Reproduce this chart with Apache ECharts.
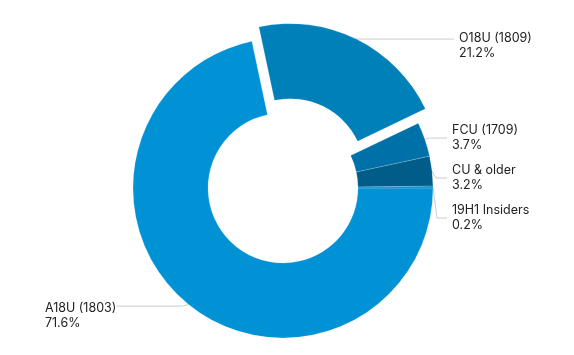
<!DOCTYPE html>
<html>
<head>
<meta charset="utf-8">
<script src="https://cdn.jsdelivr.net/npm/echarts@6/dist/echarts.min.js"></script>
<style>html,body{margin:0;padding:0;background:#fff;}#c{width:574px;height:355px;}</style>
</head>
<body>
<div id="c"></div>
<script>
const categories = ['A18U (1803)', 'O18U (1809)', 'FCU (1709)', 'CU & older', '19H1 Insiders'];
const shares = [71.6, 21.2, 3.7, 3.2, 0.2];
const colors = ['#0092d5', '#0080b9', '#0071a8', '#005d8a', '#0a88c4'];
const explodedIndex = 1;

const itemLine = {
  0: {length: 2, length2: 66},
  1: {length: 0, length2: 10}
};
// blank spacer line above some labels (nudges the text block down)
const spacer = {0: 's0', 1: 's1'};

const chart = echarts.init(document.getElementById('c'), null, {renderer: 'canvas'});
chart.setOption({
  animation: false,
  series: [{
    type: 'pie',
    center: [283, 188],
    radius: [75, 150],
    startAngle: 0,
    clockwise: true,
    selectedMode: 'single',
    selectedOffset: 16,
    avoidLabelOverlap: true,
    itemStyle: {borderColor: 'rgba(255,255,255,0.35)', borderWidth: 0.5},
    label: {
      show: true,
      formatter: function (p) {
        const sp = spacer[p.dataIndex];
        return (sp ? '{' + sp + '| }\n' : '') + p.name + '\n' + p.value + '%';
      },
      rich: {
        s0: {lineHeight: 20, fontSize: 12.5},
        s1: {lineHeight: 14, fontSize: 12.5}
      },
      fontFamily: 'Inter, Roboto, sans-serif',
      fontSize: 12.5,
      lineHeight: 15,
      padding: [4, 0, 4, 0],
      color: '#222',
      alignTo: 'labelLine',
      distanceToLabelLine: 5
    },
    labelLine: {
      show: true,
      length: 4,
      length2: 10,
      lineStyle: {color: '#c8ccd0', width: 1}
    },
    labelLayout: function (params) {
      if (params.dataIndex === 0) {
        return {x: params.labelRect.x, align: 'left'};
      }
    },
    emphasis: {disabled: true},
    data: categories.map((n, i) => ({
      name: n,
      value: shares[i],
      selected: i === explodedIndex,
      itemStyle: {color: colors[i]},
      labelLine: itemLine[i]
    }))
  }]
});
</script>
</body>
</html>
